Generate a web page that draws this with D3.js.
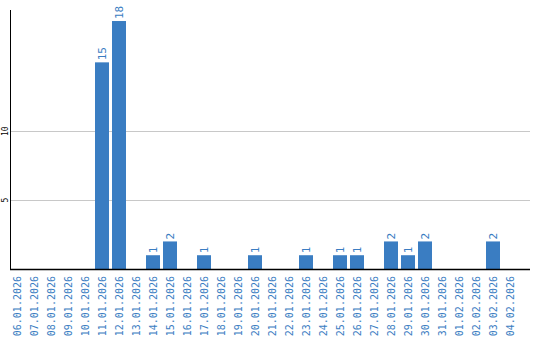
<!DOCTYPE html>
<html>
<head>
<meta charset="utf-8">
<script src="https://cdn.jsdelivr.net/npm/d3@7"></script>
<style>
  body { margin: 0; background: #fff; }
  text { font-family: "DejaVu Sans Mono", monospace; }
</style>
</head>
<body>
<div id="chart"></div>
<script>
// dates on the x axis
var dates = ["06.01.2026","07.01.2026","08.01.2026","09.01.2026","10.01.2026",
    "11.01.2026","12.01.2026","13.01.2026","14.01.2026","15.01.2026",
    "16.01.2026","17.01.2026","18.01.2026","19.01.2026","20.01.2026",
    "21.01.2026","22.01.2026","23.01.2026","24.01.2026","25.01.2026",
    "26.01.2026","27.01.2026","28.01.2026","29.01.2026","30.01.2026",
    "31.01.2026","01.02.2026","02.02.2026","03.02.2026","04.02.2026"];
// counts per day
var counts = [0,0,0,0,0, 15,18,0,1,2, 0,1,0,0,1, 0,0,1,0,1, 1,0,2,1,2, 0,0,0,2,0];
// gridline values
var yTicks = [5, 10];

var width = 540, height = 340;
var margin = {left: 10, right: 530, top: 10, bottom: 269};
var barColor = "#3a7dc2";

var svg = d3.select("#chart").append("svg")
    .attr("width", width)
    .attr("height", height);

var x = d3.scaleBand().domain(dates).range([margin.left, margin.left + 17 * dates.length]);
var y = d3.scaleLinear().domain([0, 18.8]).range([margin.bottom, margin.top]);

// gridlines
svg.selectAll("line.grid").data(yTicks).enter().append("line")
    .attr("class", "grid")
    .attr("x1", margin.left).attr("x2", margin.right)
    .attr("y1", function (d) { return Math.round(y(d)) + 0.5; })
    .attr("y2", function (d) { return Math.round(y(d)) + 0.5; })
    .style("stroke", "#c8c8c8");

// y tick labels
svg.selectAll("text.ytick").data(yTicks).enter().append("text")
    .attr("class", "ytick")
    .attr("transform", function (d) { return "translate(5," + y(d) + ") rotate(-90)"; })
    .attr("text-anchor", "middle")
    .attr("dy", "0.35em")
    .style("font-size", "8px")
    .style("fill", "#000")
    .text(function (d) { return d; });

// bars
var data = dates.map(function (d, i) { return {date: d, value: counts[i]}; });
var bw = x.bandwidth() - 3;

svg.selectAll("rect.bar").data(data.filter(function (d) { return d.value > 0; }))
    .enter().append("rect")
    .attr("class", "bar")
    .attr("x", function (d) { return x(d.date); })
    .attr("y", function (d) { return y(d.value); })
    .attr("width", bw)
    .attr("height", function (d) { return y(0) - y(d.value); })
    .style("fill", barColor);

// value labels
svg.selectAll("text.val").data(data.filter(function (d) { return d.value > 0; }))
    .enter().append("text")
    .attr("class", "val")
    .attr("transform", function (d) {
        return "translate(" + (x(d.date) + bw / 2) + "," + (y(d.value) - 2) + ") rotate(-90)";
    })
    .attr("dy", "0.35em")
    .style("font-size", "11px")
    .style("fill", barColor)
    .text(function (d) { return d.value; });

// axes lines
svg.append("line")
    .attr("x1", margin.left + 0.5).attr("x2", margin.left + 0.5)
    .attr("y1", margin.top).attr("y2", margin.bottom + 1)
    .style("stroke", "#000");
svg.append("line")
    .attr("x1", margin.left).attr("x2", margin.right)
    .attr("y1", margin.bottom + 0.5).attr("y2", margin.bottom + 0.5)
    .style("stroke", "#000").style("stroke-width", 1.5);

// date labels
svg.selectAll("text.date").data(dates).enter().append("text")
    .attr("class", "date")
    .attr("transform", function (d) {
        return "translate(" + (x(d) + bw / 2) + ",276) rotate(-90)";
    })
    .attr("text-anchor", "end")
    .attr("dy", "0.35em")
    .style("font-size", "10px")
    .style("fill", barColor)
    .text(function (d) { return d; });
</script>
</body>
</html>
